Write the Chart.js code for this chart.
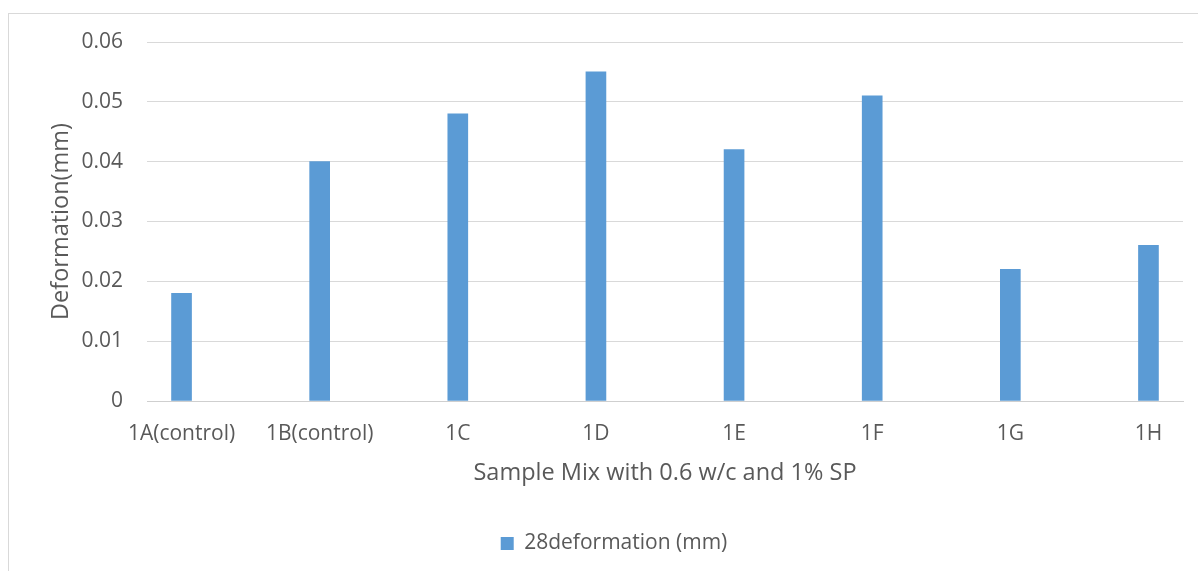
<!DOCTYPE html>
<html>
<head>
<meta charset="utf-8">
<script src="https://cdn.jsdelivr.net/npm/chart.js@4/dist/chart.umd.min.js"></script>
<style>
  html, body { margin: 0; padding: 0; background: #fff; overflow: hidden; }
  #frame { position: absolute; left: 8px; top: 13px; width: 1300px; height: 700px; border: 1px solid #D9D9D9; box-sizing: border-box; }
  #wrap { position: absolute; left: 0; top: 0; width: 1198px; height: 571px; }
</style>
</head>
<body>
<div id="frame"></div>
<div id="wrap"><canvas id="c" width="1198" height="571"></canvas></div>
<script>
const categories = ['1A(control)', '1B(control)', '1C', '1D', '1E', '1F', '1G', '1H'];
const deformation28 = [0.018, 0.040, 0.048, 0.055, 0.042, 0.051, 0.022, 0.026];
const yTicks = [0, 0.01, 0.02, 0.03, 0.04, 0.05, 0.06];
const seriesName = '28deformation (mm)';
const xTitle = 'Sample Mix with 0.6 w/c and 1% SP';
const yTitle = 'Deformation(mm)';

const FONT = "'Open Sans', 'Noto Sans', sans-serif";
const TEXT = '#595959';

new Chart(document.getElementById('c'), {
  type: 'bar',
  data: {
    datasets: [{
      label: seriesName,
      data: deformation28.map((v, i) => ({ x: i, y: v })),
      backgroundColor: '#5B9BD5',
      borderWidth: 0,
      barThickness: 20
    }]
  },
  options: {
    responsive: false,
    animation: false,
    layout: { padding: { left: 45, right: 15, top: 42, bottom: 7 } },
    plugins: {
      legend: {
        position: 'bottom',
        labels: { color: TEXT, font: { family: FONT, size: 21 }, boxWidth: 13, boxHeight: 13, padding: 10 }
      },
      tooltip: { enabled: false }
    },
    scales: {
      x: {
        type: 'linear',
        offset: false,
        min: -0.25,
        max: 7.25,
        grid: { display: false, drawTicks: false, offset: false },
        border: { display: true, color: '#CFCFCF', width: 1 },
        afterBuildTicks: s => { s.ticks = categories.map((_, i) => ({ value: i })); },
        afterFit: s => { s.height = 122; },
        ticks: {
          color: TEXT, font: { family: FONT, size: 21 }, padding: 20,
          autoSkip: false, maxRotation: 0,
          callback: v => categories[v]
        },
        title: { display: true, text: xTitle, color: TEXT, font: { family: FONT, size: 23.5 }, padding: { top: 0, bottom: 36 } }
      },
      y: {
        min: 0, max: 0.06,
        afterBuildTicks: s => { s.ticks = yTicks.map(v => ({ value: v })); },
        afterFit: s => { s.width = 102; },
        grid: { color: '#D9D9D9', lineWidth: 1, drawTicks: false },
        border: { display: false },
        ticks: {
          color: TEXT, font: { family: FONT, size: 21 }, padding: 24,
          callback: v => (v === 0 ? '0' : v.toFixed(2))
        },
        title: { display: true, text: yTitle, color: TEXT, font: { family: FONT, size: 23.5 }, padding: { top: 2, bottom: 0 } }
      }
    }
  }
});
</script>
</body>
</html>
